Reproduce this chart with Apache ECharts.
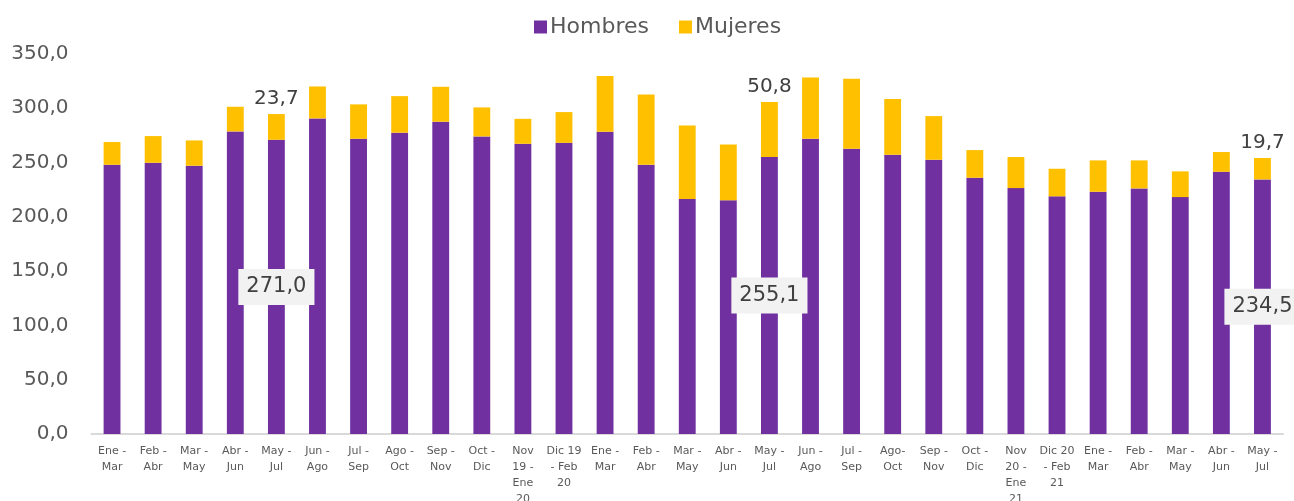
<!DOCTYPE html>
<html>
<head>
<meta charset="utf-8">
<script src="https://cdn.jsdelivr.net/npm/echarts@6/dist/echarts.min.js"></script>
<style>
  html, body { margin: 0; padding: 0; background: #fff; }
  #chart { width: 1294px; height: 501px; }
</style>
</head>
<body>
<div id="chart"></div>
<script>
const categories = [
  'Ene -\nMar', 'Feb -\nAbr', 'Mar -\nMay', 'Abr -\nJun', 'May -\nJul', 'Jun -\nAgo',
  'Jul -\nSep', 'Ago -\nOct', 'Sep -\nNov', 'Oct -\nDic', 'Nov\n19 -\nEne\n20', 'Dic 19\n- Feb\n20',
  'Ene -\nMar', 'Feb -\nAbr', 'Mar -\nMay', 'Abr -\nJun', 'May -\nJul', 'Jun -\nAgo',
  'Jul -\nSep', 'Ago-\nOct', 'Sep -\nNov', 'Oct -\nDic', 'Nov\n20 -\nEne\n21', 'Dic 20\n- Feb\n21',
  'Ene -\nMar', 'Feb -\nAbr', 'Mar -\nMay', 'Abr -\nJun', 'May -\nJul'
];

const hombres = [
  248.0, 249.8, 247.1, 278.7, 271.0, 290.7, 271.9, 277.5, 287.6, 274.1, 267.3, 268.2,
  278.4, 248.0, 216.4, 215.2, 255.1, 271.9, 262.7, 257.2, 252.6, 236.0, 226.5, 218.9,
  223.1, 226.2, 218.2, 241.5, 234.5
];

const mujeres = [
  20.9, 24.6, 23.3, 22.7, 23.7, 29.4, 31.7, 33.7, 32.2, 26.7, 23.0, 28.3,
  51.3, 64.8, 67.8, 51.5, 50.8, 56.5, 64.5, 51.3, 40.2, 25.5, 28.6, 25.4,
  28.9, 25.8, 23.7, 18.2, 19.7
];

// bars that carry value labels
const labeledIdx = [4, 16, 28];

const fmt = v => v.toFixed(1).replace('.', ',');
const fontFamily = 'DejaVu Sans';

const chart = echarts.init(document.getElementById('chart'));

const option = {
  animation: false,
  textStyle: { fontFamily: fontFamily },
  legend: {
    top: 11,
    left: 529,
    itemWidth: 13,
    itemHeight: 13,
    itemGap: 30,
    icon: 'rect',
    textStyle: { fontSize: 22, color: '#595959', fontFamily: fontFamily, padding: [0, 0, 0, -2] },
    data: ['Hombres', 'Mujeres']
  },
  grid: {
    left: 91.5,
    right: 11,
    top: 54,
    bottom: 67,
    outerBoundsMode: 'none',
    containLabel: false
  },
  xAxis: {
    type: 'category',
    data: categories,
    axisTick: { show: false },
    axisLine: { lineStyle: { color: '#d9d9d9', width: 2 } },
    axisLabel: {
      interval: 0,
      color: '#595959',
      fontSize: 11,
      lineHeight: 16,
      margin: 9,
      fontFamily: fontFamily
    }
  },
  yAxis: {
    type: 'value',
    min: 0,
    max: 350,
    interval: 50,
    axisLine: { show: false },
    axisTick: { show: false },
    splitLine: { show: false },
    axisLabel: {
      color: '#595959',
      fontSize: 20,
      margin: 23,
      fontFamily: fontFamily,
      formatter: v => fmt(v)
    }
  },
  series: [
    {
      name: 'Hombres',
      type: 'bar',
      stack: 'total',
      barWidth: '41%',
      itemStyle: { color: '#7030A0' },
      data: hombres.map((v, i) => {
        if (!labeledIdx.includes(i)) return v;
        return {
          value: v,
          label: {
            show: true,
            position: 'inside',
            formatter: p => fmt(p.value),
            color: '#404040',
            fontSize: 21,
            fontFamily: fontFamily,
            backgroundColor: '#f2f2f2',
            padding: [8, 8, 7, 8]
          }
        };
      })
    },
    {
      name: 'Mujeres',
      type: 'bar',
      stack: 'total',
      barWidth: '41%',
      itemStyle: { color: '#FFC000' },
      data: mujeres.map((v, i) => {
        if (!labeledIdx.includes(i)) return v;
        return {
          value: v,
          label: {
            show: true,
            position: 'top',
            distance: 5,
            formatter: p => fmt(p.value),
            color: '#404040',
            fontSize: 20,
            fontFamily: fontFamily
          }
        };
      })
    }
  ]
};

chart.setOption(option);
</script>
</body>
</html>
